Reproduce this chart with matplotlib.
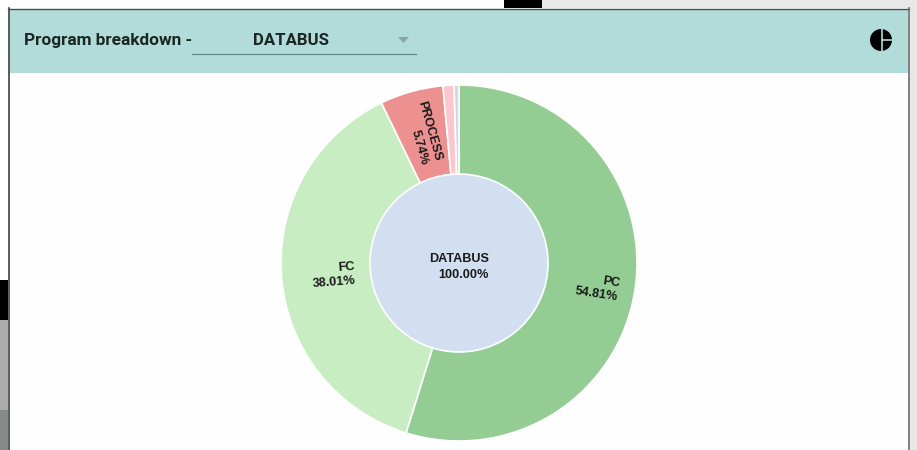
import numpy as np
from matplotlib import pyplot as plt
from matplotlib.patches import Rectangle, Circle, Polygon

names = ['PC', 'FC', 'PROCESS', '', '']
shares = [54.81, 38.01, 5.74, 1.00, 0.44]
colors = ['#93cd93', '#c8edc2', '#ec9090', '#fbc6cc', '#d9d3e6']

W, H = 917, 450
plt.rcParams['font.family'] = ['Roboto', 'DejaVu Sans']

fig = plt.figure(figsize=(W / 100, H / 100), dpi=100)
bg = fig.add_axes([0, 0, 1, 1])
bg.set_xlim(0, W)
bg.set_ylim(H, 0)
bg.axis('off')

def box(x, y, w, h, c, z=1):
    bg.add_patch(Rectangle((x, y), w, h, facecolor=c, edgecolor='none', zorder=z))

# stuff behind the panel
box(0, 0, W, H, '#ffffff', 0)
box(542, 0, W - 542, 8, '#e8e8e8')
box(504, 0, 38, 8, '#000000')
box(908, 0, 9, H, '#e8e8e8')
box(0, 280, 8, 40, '#000000')
box(0, 320, 8, 90, '#ababab')
box(0, 410, 8, 40, '#858a89')

# panel + header
box(8, 8, 900, 442, '#fefefe', 2)
box(9, 9, 899, 64, '#b1dcd9', 3)
bg.plot([8.5, 8.5], [8, H], color='#303030', lw=1.1, zorder=4)
bg.plot([8, 908.5], [8.5, 8.5], color='#4a4f4f', lw=1.0, zorder=4)
bg.plot([908.5, 908.5], [8, H], color='#6f6f6f', lw=1.2, zorder=4)

bg.text(24, 40.5, 'Program breakdown -', fontsize=12.4, fontweight='bold', color='#1c2626',
        va='center', ha='left', zorder=5)
bg.text(291, 40.5, 'DATABUS', fontsize=12.1, fontweight='bold', color='#1c2626',
        va='center', ha='center', zorder=5)
bg.plot([192, 416], [53.5, 53.5], color='#6d8583', lw=0.9, zorder=5)
bg.add_patch(Polygon([[398, 37], [409, 37], [403.5, 43]], facecolor='#8fa5a3', edgecolor='none', zorder=5))

# pie icon top right
bg.add_patch(Circle((881, 40), 11, facecolor='#000000', edgecolor='none', zorder=5))
bg.plot([881.5, 881.5], [28, 52], color='#b1dcd9', lw=1.2, zorder=6)
bg.plot([881.5, 893], [39.5, 39.5], color='#b1dcd9', lw=1.2, zorder=6)

# donut, same pixels as the reference: centre 459,263 radius 178
cx, cy, R = 459, 263, 178
ax = fig.add_axes([(cx - R - 2) / W, 1 - (cy + R + 2) / H, (2 * R + 4) / W, (2 * R + 4) / H])
wedges, _ = ax.pie(shares, colors=colors, startangle=90, counterclock=False, radius=R, center=(0, 0),
                   wedgeprops=dict(edgecolor='#ffffff', linewidth=1.2), frame=True)
ax.set_xlim(-(R + 2), R + 2)
ax.set_ylim(-(R + 2), R + 2)
ax.set_aspect('equal')
ax.axis('off')
ax.add_patch(Circle((0, 0), R * 0.5, facecolor='#d2dff0', edgecolor='#ffffff', linewidth=1.2, zorder=5))
ax.text(30, -4, 'DATABUS\n100.00%', fontsize=9.1, fontweight='bold', color='#1a1a1a', ha='right',
        va='center', multialignment='right', linespacing=1.4, zorder=6,
        fontfamily=['Liberation Sans', 'DejaVu Sans'])

# labels are right aligned, anchored along the middle of the wedge
label_r = [0.91, 0.585, 0.585]
label_dy = [-3.5, -3, 0]
for w, name, share, r, dy in zip(wedges, names, shares, label_r, label_dy):
    mid = np.deg2rad((w.theta1 + w.theta2) / 2)
    rot = np.rad2deg(mid)
    if np.cos(mid) < 0:
        rot = rot + 180
    ax.text(r * R * np.cos(mid), r * R * np.sin(mid) + dy, f'{name}\n{share:.2f}%', rotation=rot,
            rotation_mode='anchor', ha='right', va='center', multialignment='right', fontsize=9.1,
            fontweight='bold', color='#1a1a1a', linespacing=1.2, zorder=6,
            fontfamily=['Liberation Sans', 'DejaVu Sans'])

fig.savefig('out.png', dpi=100)
